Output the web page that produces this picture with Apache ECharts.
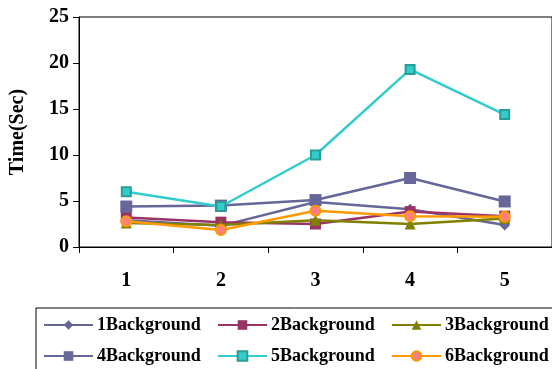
<!DOCTYPE html>
<html>
<head>
<meta charset="utf-8">
<script src="https://cdn.jsdelivr.net/npm/echarts@6/dist/echarts.min.js"></script>
<style>
  html, body { margin: 0; padding: 0; background: #fff; }
  #chart { width: 552px; height: 369px; }
</style>
</head>
<body>
<div id="chart"></div>
<script>
// Processing time per background setting
const categories = ['1', '2', '3', '4', '5'];
const seriesNames = ['1Background', '2Background', '3Background', '4Background', '5Background', '6Background'];
const bg1 = [2.9, 2.3, 4.9, 4.1, 2.4];
const bg2 = [3.2, 2.7, 2.5, 3.85, 3.35];
const bg3 = [2.6, 2.4, 2.9, 2.5, 3.1];
const bg4 = [4.4, 4.5, 5.1, 7.5, 4.95];
const bg5 = [6.0, 4.4, 10.0, 19.3, 14.4];
const bg6 = [2.8, 1.85, 3.95, 3.35, 3.3];
const yTicks = [0, 5, 10, 15, 20, 25];

const font = 'Liberation Serif';
const seriesData = [bg1, bg2, bg3, bg4, bg5, bg6];
const styles = [
  { color: '#666699', symbol: 'diamond', size: 11, fill: '#666699' },
  { color: '#993366', symbol: 'rect', size: 11, fill: '#993366' },
  { color: '#808000', symbol: 'triangle', size: 11, fill: '#808000' },
  { color: '#666699', symbol: 'rect', size: 12, fill: '#666699' },
  { color: '#33CCCC', symbol: 'rect', size: 9, fill: '#33CCCC', border: '#2A9D96' },
  { color: '#FF9900', symbol: 'circle', size: 10, fill: '#FF8080', border: '#FF9900' }
];

const series = seriesNames.map((name, i) => ({
  name: name,
  type: 'line',
  data: seriesData[i],
  symbol: styles[i].symbol,
  symbolSize: styles[i].size,
  showSymbol: true,
  lineStyle: { color: styles[i].color, width: 2.5 },
  itemStyle: {
    color: styles[i].fill,
    borderColor: styles[i].border || styles[i].color,
    borderWidth: styles[i].border ? 2 : 0
  },
  emphasis: { disabled: true },
  z: 2 + i
}));

// legend: two rows of three entries, each placed individually
const legendLeft = [43, 217, 391];
const legendTop = [316, 347];
const legends = seriesNames.map((name, i) => ({
  data: [name],
  left: legendLeft[i % 3],
  top: legendTop[Math.floor(i / 3)],
  itemWidth: 49,
  itemHeight: 12,
  itemGap: 0,
  padding: 0,
  textStyle: { fontFamily: font, fontWeight: 'bold', fontSize: 18, color: '#000', padding: [0, 0, 0, -1] },
  selectedMode: false
}));

const axisFont = { fontFamily: font, fontWeight: 'bold', fontSize: 20, color: '#000' };

const chart = echarts.init(document.getElementById('chart'), null, { renderer: 'canvas' });
chart.setOption({
  animation: false,
  backgroundColor: '#fff',
  grid: {
    left: 79, top: 17, right: -7, bottom: 122,
    show: true, borderColor: '#000', borderWidth: 1
  },
  legend: legends,
  graphic: [{
    type: 'rect',
    shape: { x: 36, y: 308, width: 530, height: 80 },
    style: { fill: 'none', stroke: '#000', lineWidth: 1 },
    z: 0
  }],
  xAxis: {
    type: 'category',
    data: categories,
    boundaryGap: true,
    axisLine: { lineStyle: { color: '#000', width: 1 } },
    axisTick: { show: true, length: 6, lineStyle: { color: '#000' } },
    axisLabel: Object.assign({ margin: 24 }, axisFont),
    splitLine: { show: false }
  },
  yAxis: {
    type: 'value',
    min: yTicks[0],
    max: yTicks[yTicks.length - 1],
    interval: yTicks[1] - yTicks[0],
    name: 'Time(Sec)',
    nameLocation: 'middle',
    nameGap: 51,
    nameTextStyle: axisFont,
    axisLine: { show: true, lineStyle: { color: '#000', width: 1 } },
    axisTick: { show: true, length: 6, lineStyle: { color: '#000' } },
    axisLabel: Object.assign({ margin: 10 }, axisFont),
    splitLine: { show: false }
  },
  series: series
});
</script>
</body>
</html>
